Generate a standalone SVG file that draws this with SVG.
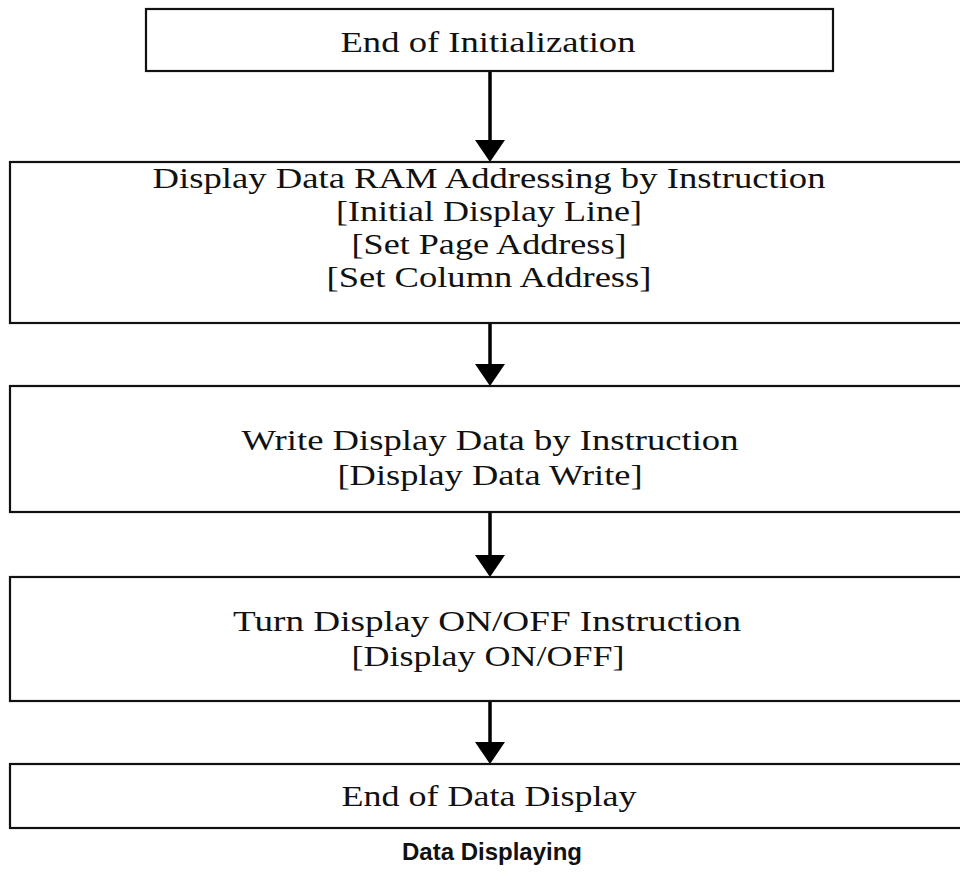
<svg xmlns="http://www.w3.org/2000/svg" width="960" height="891" viewBox="0 0 960 891">
<style>
.box{fill:#fff;stroke:#111;stroke-width:2.2}
.t{font-family:"Liberation Serif","Times New Roman",serif;font-size:30px;fill:#111;text-anchor:middle}
.title{font-family:"Liberation Sans",Arial,sans-serif;font-size:24px;font-weight:bold;fill:#111;text-anchor:middle}
.shaft{stroke:#000;stroke-width:3.5;fill:none}
.head{fill:#000}
</style>
<rect x="0" y="0" width="960" height="891" fill="#fff"/>
<g id="connectors">
<line class="shaft" x1="490" y1="71" x2="490" y2="142"/><polygon class="head" points="475,140 505,140 490,162"/>
<line class="shaft" x1="490" y1="323" x2="490" y2="366"/><polygon class="head" points="475,364 505,364 490,386"/>
<line class="shaft" x1="490" y1="512" x2="490" y2="557"/><polygon class="head" points="475,555 505,555 490,577"/>
<line class="shaft" x1="490" y1="701" x2="490" y2="744"/><polygon class="head" points="475,742 505,742 490,764"/>
</g>
<g id="n1">
<rect class="box" x="146" y="9" width="687" height="62"/>
<text class="t" x="488" y="52" textLength="295" lengthAdjust="spacingAndGlyphs">End of Initialization</text>
</g>
<g id="n2">
<rect class="box" x="10" y="162" width="960" height="161"/>
<text class="t" x="489" y="188" textLength="673" lengthAdjust="spacingAndGlyphs">Display Data RAM Addressing by Instruction</text>
<text class="t" x="489" y="221" textLength="306" lengthAdjust="spacingAndGlyphs">[Initial Display Line]</text>
<text class="t" x="489" y="254" textLength="275" lengthAdjust="spacingAndGlyphs">[Set Page Address]</text>
<text class="t" x="489" y="287" textLength="325" lengthAdjust="spacingAndGlyphs">[Set Column Address]</text>
</g>
<g id="n3">
<rect class="box" x="10" y="386" width="960" height="126"/>
<text class="t" x="490" y="450" textLength="497" lengthAdjust="spacingAndGlyphs">Write Display Data by Instruction</text>
<text class="t" x="490" y="485" textLength="305" lengthAdjust="spacingAndGlyphs">[Display Data Write]</text>
</g>
<g id="n4">
<rect class="box" x="10" y="577" width="960" height="124"/>
<text class="t" x="487" y="631" textLength="508" lengthAdjust="spacingAndGlyphs">Turn Display ON/OFF Instruction</text>
<text class="t" x="488" y="666" textLength="273" lengthAdjust="spacingAndGlyphs">[Display ON/OFF]</text>
</g>
<g id="n5">
<rect class="box" x="10" y="764" width="960" height="64"/>
<text class="t" x="489" y="806" textLength="295" lengthAdjust="spacingAndGlyphs">End of Data Display</text>
</g>
<text class="title" x="492" y="860">Data Displaying</text>
</svg>
